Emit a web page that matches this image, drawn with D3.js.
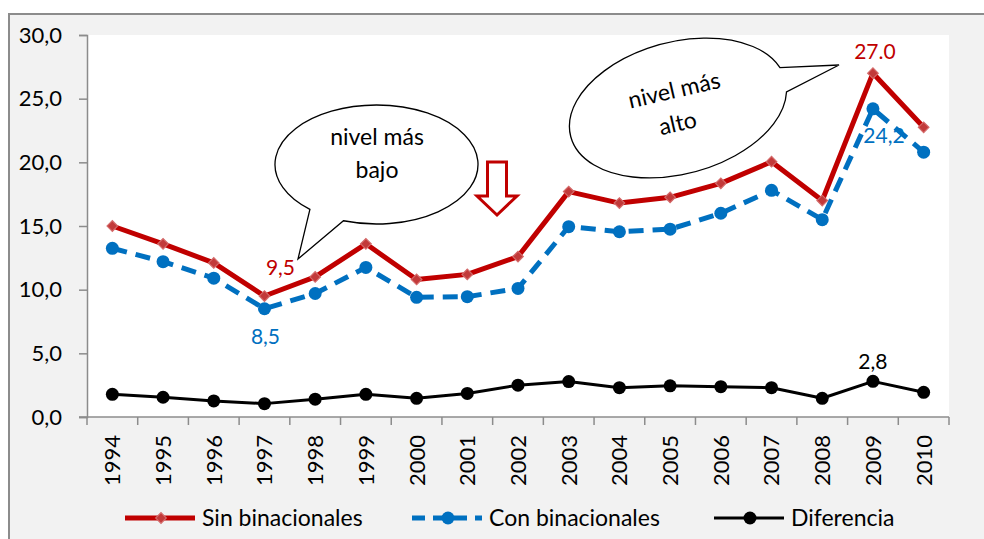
<!DOCTYPE html>
<html>
<head>
<meta charset="utf-8">
<script src="https://cdn.jsdelivr.net/npm/d3@7"></script>
<style>
  body { margin: 0; background: #fff; }
  svg { display: block; font-family: Lato, "Noto Sans", sans-serif; }
</style>
</head>
<body>
<svg id="chart" width="984" height="539"></svg>
<script>
var years = ['1994','1995','1996','1997','1998','1999','2000','2001','2002','2003','2004','2005','2006','2007','2008','2009','2010'];
var sinBinacionales = [15.0, 13.6, 12.1, 9.5, 11.0, 13.6, 10.8, 11.2, 12.6, 17.7, 16.8, 17.25, 18.35, 20.05, 17.0, 27.0, 22.75];
var conBinacionales = [13.25, 12.2, 10.9, 8.5, 9.7, 11.75, 9.4, 9.45, 10.1, 14.95, 14.55, 14.75, 16.0, 17.8, 15.5, 24.2, 20.8];
var diferencia = [1.78, 1.55, 1.26, 1.05, 1.4, 1.78, 1.47, 1.85, 2.5, 2.78, 2.3, 2.45, 2.38, 2.3, 1.47, 2.8, 1.94];
var yTicks = [0, 5, 10, 15, 20, 25, 30];

// point labels: [series index, year index, text]
var pointLabels = [
    {series: 0, i: 3,  text: '9,5',  dx: 16, dy: -21},
    {series: 1, i: 3,  text: '8,5',  dx: 1,  dy: 35},
    {series: 0, i: 15, text: '27.0', dx: 2,  dy: -14},
    {series: 1, i: 15, text: '24,2', dx: 11, dy: 34},
    {series: 2, i: 15, text: '2,8',  dx: 0,  dy: -12}
];

var RED = '#c00000', BLUE = '#0070c0', BLACK = '#000';

var svg = d3.select('#chart');
var margin = {left: 87, right: 35, top: 35, bottom: 122};
var W = 984, H = 539;

// outer frame
svg.append('rect')
    .attr('x', 9).attr('y', 14)
    .attr('width', 1000).attr('height', 600)
    .attr('fill', '#f2f2f2')
    .attr('stroke', '#8c8c8c')
    .attr('stroke-width', 2);

var x = d3.scaleBand().domain(years).range([margin.left, W - margin.right]);
var y = d3.scaleLinear().domain([0, 30]).range([H - margin.bottom, margin.top]);

svg.append('rect')
    .attr('x', x.range()[0]).attr('y', y(30))
    .attr('width', x.range()[1] - x.range()[0])
    .attr('height', y(0) - y(30))
    .attr('fill', '#fff');

// y axis
var yAxis = svg.append('g')
    .attr('transform', 'translate(' + margin.left + ',0)')
    .call(d3.axisLeft(y).tickValues(yTicks).tickSize(8).tickPadding(17)
        .tickFormat(function(d) { return d3.format('.1f')(d).replace('.', ','); }));
yAxis.selectAll('text').attr('font-size', 22).attr('fill', '#000').attr('font-family', 'Lato, sans-serif');
yAxis.selectAll('line, path').attr('stroke', '#8c8c8c').attr('stroke-width', 1.5);

// x axis: ticks on band edges
var xg = svg.append('g');
xg.append('line')
    .attr('x1', x.range()[0] - 8).attr('x2', x.range()[1])
    .attr('y1', y(0)).attr('y2', y(0))
    .attr('stroke', '#8c8c8c').attr('stroke-width', 1.5);
var edges = years.map(function(d) { return x(d); }).concat([x.range()[1]]);
xg.selectAll('line.tick').data(edges).enter().append('line')
    .attr('class', 'tick')
    .attr('x1', function(d) { return d; }).attr('x2', function(d) { return d; })
    .attr('y1', y(0)).attr('y2', y(0) + 8)
    .attr('stroke', '#8c8c8c').attr('stroke-width', 1.5);
xg.selectAll('text').data(years).enter().append('text')
    .attr('transform', function(d) {
        return 'translate(' + (x(d) + x.bandwidth() / 2) + ',' + (y(0) + 18) + ') rotate(-90)';
    })
    .attr('text-anchor', 'end')
    .attr('dy', '0.36em')
    .attr('font-size', 22)
    .text(function(d) { return d; });

function cx(d, i) { return x(years[i]) + x.bandwidth() / 2; }
var line = d3.line().x(cx).y(function(d) { return y(d); });

var series = [
    {name: 'Sin binacionales', values: sinBinacionales, color: RED, width: 5, dash: null, marker: 'diamond'},
    {name: 'Con binacionales', values: conBinacionales, color: BLUE, width: 5, dash: '15,9', marker: 'circle'},
    {name: 'Diferencia', values: diferencia, color: BLACK, width: 3, dash: null, marker: 'circle'}
];

function drawMarker(g, s, px, py) {
    if (s.marker === 'diamond') {
        g.append('path')
            .attr('d', d3.symbol(d3.symbolSquare, 56)())
            .attr('transform', 'translate(' + px + ',' + py + ') rotate(45)')
            .attr('fill', '#c23a3a')
            .attr('stroke', '#d46a6a')
            .attr('stroke-width', 1.2);
    } else {
        g.append('circle')
            .attr('cx', px).attr('cy', py).attr('r', 6.5)
            .attr('fill', s.color);
    }
}

// draw black, blue, red (red on top)
[series[2], series[1], series[0]].forEach(function(s) {
    var g = svg.append('g');
    g.append('path')
        .datum(s.values)
        .attr('d', line)
        .attr('fill', 'none')
        .attr('stroke', s.color)
        .attr('stroke-width', s.width)
        .attr('stroke-linejoin', 'round')
        .attr('stroke-dasharray', s.dash);
    s.values.forEach(function(v, i) { drawMarker(g, s, cx(v, i), y(v)); });
});

// value labels
pointLabels.forEach(function(p) {
    var s = series[p.series];
    svg.append('text')
        .attr('x', cx(null, p.i) + p.dx)
        .attr('y', y(s.values[p.i]) + p.dy)
        .attr('text-anchor', 'middle')
        .attr('font-size', 21)
        .attr('fill', s.color)
        .text(p.text);
});

// speech bubbles
function bubble(b) {
    var r = b.rot * Math.PI / 180;
    function pt(tDeg) {
        var t = tDeg * Math.PI / 180;
        var lx = b.rx * Math.cos(t), ly = b.ry * Math.sin(t);
        return [b.cx + lx * Math.cos(r) - ly * Math.sin(r), b.cy + lx * Math.sin(r) + ly * Math.cos(r)];
    }
    var p1 = pt(b.t1), p2 = pt(b.t2);
    var sweep = b.t1 > b.t2 ? 0 : 1;
    var d = 'M' + p2 + 'A' + b.rx + ',' + b.ry + ' ' + b.rot + ' 1,' + sweep + ' ' + p1 + 'L' + b.tip + 'Z';
    var g = svg.append('g');
    g.append('path').attr('d', d)
        .attr('fill', '#fff').attr('stroke', '#000').attr('stroke-width', 1.3);
    var t = g.append('text')
        .attr('transform', 'translate(' + b.tx + ',' + b.ty + ') rotate(' + b.textRot + ')')
        .attr('text-anchor', 'middle')
        .attr('font-size', 23);
    b.lines.forEach(function(l, k) {
        t.append('tspan').attr('x', l.dx).attr('y', k * 33).text(l.text);
    });
}

bubble({cx: 376.5, cy: 164.5, rx: 101.5, ry: 59.5, rot: 0, t1: 131, t2: 109, tip: [298, 259],
        tx: 377, ty: 145, textRot: 0, lines: [{text: 'nivel más', dx: 0}, {text: 'bajo', dx: 0}]});
bubble({cx: 678, cy: 108, rx: 111, ry: 66, rot: -15, t1: -11, t2: 11, tip: [839, 65],
        tx: 676, ty: 98, textRot: -13, lines: [{text: 'nivel más', dx: 0}, {text: 'alto', dx: -4}]});

// down arrow
var ax = 497, ay = 162;
svg.append('path')
    .attr('d', d3.line()([[ax - 9.5, ay], [ax + 9.5, ay], [ax + 9.5, ay + 34], [ax + 20, ay + 34],
                          [ax, ay + 53], [ax - 20, ay + 34], [ax - 9.5, ay + 34]]) + 'Z')
    .attr('fill', '#fff').attr('stroke', RED).attr('stroke-width', 3).attr('stroke-linejoin', 'miter');

// legend
var legendX = [125, 412, 714];
var legend = svg.append('g').attr('transform', 'translate(0,518)');
series.forEach(function(s, k) {
    var g = legend.append('g').attr('transform', 'translate(' + legendX[k] + ',0)');
    g.append('line')
        .attr('x1', 0).attr('x2', 70).attr('y1', 0).attr('y2', 0)
        .attr('stroke', s.color).attr('stroke-width', s.width)
        .attr('stroke-dasharray', s.dash ? '13,8' : null);
    drawMarker(g, s, 36, 0);
    g.append('text')
        .attr('x', 77).attr('y', 0).attr('dy', '0.35em')
        .attr('font-size', 23)
        .text(s.name);
});
</script>
</body>
</html>
